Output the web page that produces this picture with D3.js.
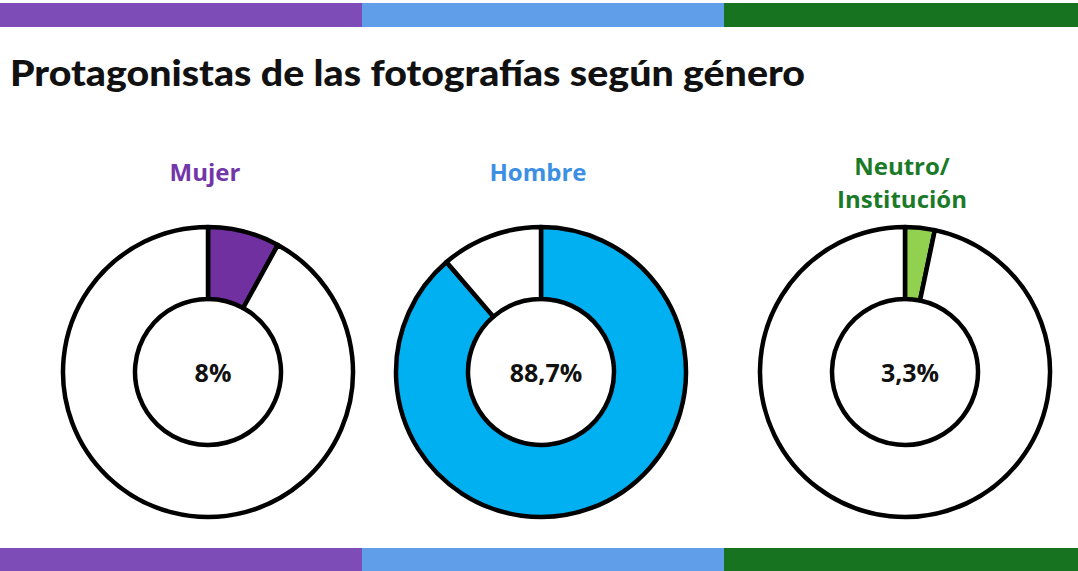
<!DOCTYPE html>
<meta charset="utf-8">
<head>
<script src="https://d3js.org/d3.v7.min.js"></script>
<style>
  body { margin: 0; background: #fff; }
</style>
</head>
<body>
<div id="my_dataviz"></div>
<script>

// data
var categories = ["Mujer", "Hombre", "Neutro/Institución"];
var values = [8, 88.7, 3.3];
var valueLabels = ["8%", "88,7%", "3,3%"];
var titleLines = [["Mujer"], ["Hombre"], ["Neutro/", "Institución"]];

var fillColors = ["#7030a0", "#00b0f0", "#92d050"];
var titleColors = ["#7236a8", "#3d8fe3", "#1b7a28"];
var barColors = ["#7e4cb6", "#619ee9", "#17731f"];

var width = 1078, height = 571;

var svg = d3.select("#my_dataviz")
  .append("svg")
    .attr("width", width)
    .attr("height", height);

// top and bottom colour bands
var band = d3.scaleBand()
  .domain(categories)
  .range([0, 1086]);

[[3, 24], [548, 23]].forEach(function(b) {
  svg.selectAll(null)
    .data(categories)
    .enter()
    .append("rect")
      .attr("x", function(d) { return band(d); })
      .attr("y", b[0])
      .attr("width", band.bandwidth() + 0.5)
      .attr("height", b[1])
      .style("fill", function(d, i) { return barColors[i]; });
});

// title
svg.append("text")
  .attr("x", 10)
  .attr("y", 86)
  .attr("textLength", 795)
  .attr("lengthAdjust", "spacingAndGlyphs")
  .style("font-family", "Lato, sans-serif")
  .style("font-weight", 900)
  .style("font-size", "36px")
  .style("fill", "#111")
  .text("Protagonistas de las fotografías según género");

// donut positions (not evenly spaced in the original)
var cx = d3.scaleOrdinal()
  .domain(categories)
  .range([208, 541, 905]);

var cy = 372;
var outerR = 145, innerR = 73;

var arc = d3.arc()
  .innerRadius(innerR)
  .outerRadius(outerR);

var pie = d3.pie().sort(null);

categories.forEach(function(cat, i) {
  var g = svg.append("g")
    .attr("transform", "translate(" + cx(cat) + "," + cy + ")");

  g.selectAll("path")
    .data(pie([values[i], 100 - values[i]]))
    .enter()
    .append("path")
      .attr("d", arc)
      .style("fill", function(d, j) { return j === 0 ? fillColors[i] : "#fff"; })
      .style("stroke", "#000")
      .style("stroke-width", 4.5)
      .style("stroke-linejoin", "round");

  g.append("text")
    .attr("x", 5)
    .attr("y", 10)
    .style("text-anchor", "middle")
    .style("font-family", "'Open Sans', sans-serif")
    .style("font-weight", "bold")
    .style("font-size", "25px")
    .style("fill", "#111")
    .text(valueLabels[i]);

  var lines = titleLines[i];
  var base = lines.length === 1 ? 181 : 175;
  lines.forEach(function(l, k) {
    svg.append("text")
      .attr("x", cx(cat) - 3)
      .attr("y", base + k * 33)
      .style("text-anchor", "middle")
      .style("font-family", "'Open Sans', sans-serif")
      .style("font-weight", "bold")
      .style("font-size", "24px")
      .style("fill", titleColors[i])
      .text(l);
  });
});

</script>
</body>
